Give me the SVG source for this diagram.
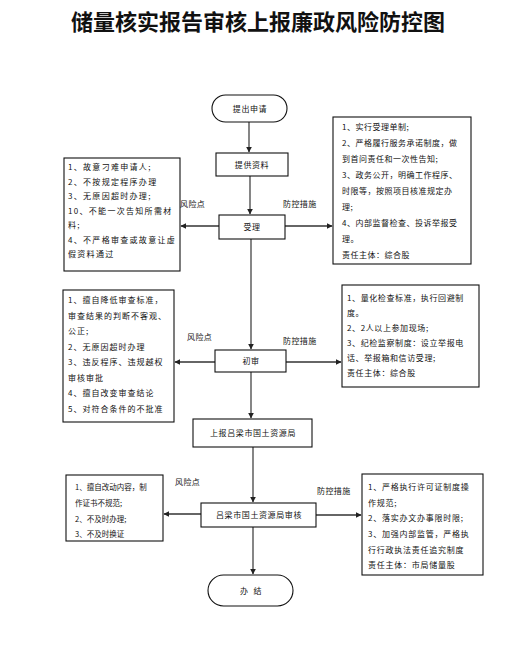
<svg xmlns="http://www.w3.org/2000/svg" width="519" height="669" viewBox="0 0 519 669">
<defs>
<marker id="ah" viewBox="0 0 10 10" refX="9" refY="5" markerWidth="6" markerHeight="6" orient="auto" markerUnits="userSpaceOnUse">
<path d="M0,0 L10,5 L0,10 z" fill="#222"/>
</marker>
<style>
text{font-family:"Noto Sans CJK SC","Liberation Sans",sans-serif;fill:#111}
.t{font-size:22px;font-weight:700;text-anchor:middle}
.n{font-size:8px;text-anchor:middle;letter-spacing:0.6px}
.lab{font-size:8px;letter-spacing:0.4px}
.b{font-size:8px}
.box{fill:#fff;stroke:#111;stroke-width:1.1}
.v{stroke:#222;stroke-width:1.1;fill:none}
.h{stroke:#666;stroke-width:1.8;fill:none}
</style>
</defs>
<rect width="519" height="669" fill="#fff"/>
<text class="t" x="258" y="30">储量核实报告审核上报廉政风险防控图</text>

<g id="connectors">
<line class="v" x1="249" y1="122" x2="249" y2="152" marker-end="url(#ah)"/>
<line class="v" x1="250" y1="176" x2="250" y2="214" marker-end="url(#ah)"/>
<line class="v" x1="251" y1="239" x2="251" y2="349" marker-end="url(#ah)"/>
<line class="v" x1="251" y1="372" x2="251" y2="418" marker-end="url(#ah)"/>
<line class="v" x1="253" y1="447" x2="253" y2="502" marker-end="url(#ah)"/>
<line class="v" x1="253" y1="527" x2="253" y2="574" marker-end="url(#ah)"/>
<line class="h" x1="219" y1="226" x2="181" y2="226" marker-end="url(#ah)"/>
<line class="h" x1="285" y1="226" x2="332" y2="226" marker-end="url(#ah)"/>
<line class="h" x1="215" y1="362" x2="175" y2="362" marker-end="url(#ah)"/>
<line class="h" x1="286" y1="362" x2="341" y2="362" marker-end="url(#ah)"/>
<line class="h" x1="201" y1="514" x2="164" y2="514" marker-end="url(#ah)"/>
<line class="h" x1="316" y1="515" x2="361" y2="515" marker-end="url(#ah)"/>
</g>

<g id="labels">
<text class="lab" x="180" y="207">风险点</text>
<text class="lab" x="283" y="207">防控措施</text>
<text class="lab" x="187" y="340">风险点</text>
<text class="lab" x="283" y="344">防控措施</text>
<text class="lab" x="175" y="485">风险点</text>
<text class="lab" x="317" y="494">防控措施</text>
</g>

<g id="start">
<rect class="box" x="212" y="95" width="75" height="27" rx="13.5"/>
<text class="n" x="250" y="112">提出申请</text>
</g>
<g id="provide">
<rect class="box" x="216" y="153" width="72" height="23"/>
<text class="n" x="252" y="168">提供资料</text>
</g>
<g id="accept">
<rect class="box" x="219" y="215" width="66" height="24"/>
<text class="n" x="252" y="230">受理</text>
</g>
<g id="prelim">
<rect class="box" x="215" y="350" width="71" height="22"/>
<text class="n" x="251" y="364">初审</text>
</g>
<g id="report">
<rect class="box" x="193" y="419" width="119" height="28"/>
<text class="n" x="253" y="436">上报吕梁市国土资源局</text>
</g>
<g id="review">
<rect class="box" x="201" y="503" width="115" height="24"/>
<text class="n" x="259" y="518">吕梁市国土资源局审核</text>
</g>
<g id="end">
<rect class="box" x="208" y="575" width="85" height="31" rx="15.5"/>
<text class="n" x="251" y="594" xml:space="preserve">办  结</text>
</g>

<g id="risk1">
<rect class="box" x="64" y="158" width="116" height="113"/>
<g class="b" style="letter-spacing:1.3px">
<text x="68" y="170">1、故意刁难申请人;</text>
<text x="68" y="184.5">2、不按规定程序办理</text>
<text x="68" y="199">3、无原因超时办理;</text>
<text x="68" y="213.5">10、不能一次告知所需材</text>
<text x="68" y="228">料;</text>
<text x="68" y="242.5">4、不严格审查或故意让虚</text>
<text x="68" y="257">假资料通过</text>
</g>
</g>
<g id="measure1">
<rect class="box" x="333" y="117" width="138" height="147"/>
<g class="b" style="letter-spacing:0.5px">
<text x="342" y="130">1、实行受理单制;</text>
<text x="342" y="146">2、严格履行服务承诺制度，做</text>
<text x="342" y="162">到首问责任和一次性告知;</text>
<text x="342" y="178">3、政务公开，明确工作程序、</text>
<text x="342" y="194">时限等，按照项目核准规定办</text>
<text x="342" y="210">理;</text>
<text x="342" y="226">4、内部监督检查、投诉举报受</text>
<text x="342" y="242">理。</text>
<text x="342" y="258">责任主体：综合股</text>
</g>
</g>
<g id="risk2">
<rect class="box" x="63" y="290" width="111" height="132"/>
<g class="b" style="letter-spacing:1px">
<text x="68" y="303">1、擅自降低审查标准，</text>
<text x="68" y="318.5">审查结果的判断不客观、</text>
<text x="68" y="334">公正;</text>
<text x="68" y="349.5">2、无原因超时办理</text>
<text x="68" y="365">3、违反程序、违规越权</text>
<text x="68" y="380.5">审核审批</text>
<text x="68" y="396">4、擅自改变审查结论</text>
<text x="68" y="411.5">5、对符合条件的不批准</text>
</g>
</g>
<g id="measure2">
<rect class="box" x="342" y="285" width="137" height="102"/>
<g class="b" style="letter-spacing:0.6px">
<text x="347" y="301">1、量化检查标准，执行回避制</text>
<text x="347" y="316">度。</text>
<text x="347" y="331">2、2人以上参加现场;</text>
<text x="347" y="346">3、纪检监察制度：设立举报电</text>
<text x="347" y="361">话、举报箱和信访受理;</text>
<text x="347" y="376">责任主体：综合股</text>
</g>
</g>
<g id="risk3">
<rect class="box" x="66" y="475" width="97" height="66"/>
<g class="b" style="font-size:7.5px">
<text x="75" y="490">1、擅自改动内容，制</text>
<text x="75" y="506">作证书不规范;</text>
<text x="75" y="522">2、不及时办理;</text>
<text x="75" y="537">3、不及时换证</text>
</g>
</g>
<g id="measure3">
<rect class="box" x="362" y="474" width="121" height="101"/>
<g class="b" style="letter-spacing:0.75px">
<text x="368" y="490">1、严格执行许可证制度操</text>
<text x="368" y="505.5">作规范;</text>
<text x="368" y="521">2、落实办文办事限时限;</text>
<text x="368" y="537">3、加强内部监管，严格执</text>
<text x="368" y="552.5">行行政执法责任追究制度</text>
<text x="368" y="568">责任主体：市局储量股</text>
</g>
</g>
</svg>
